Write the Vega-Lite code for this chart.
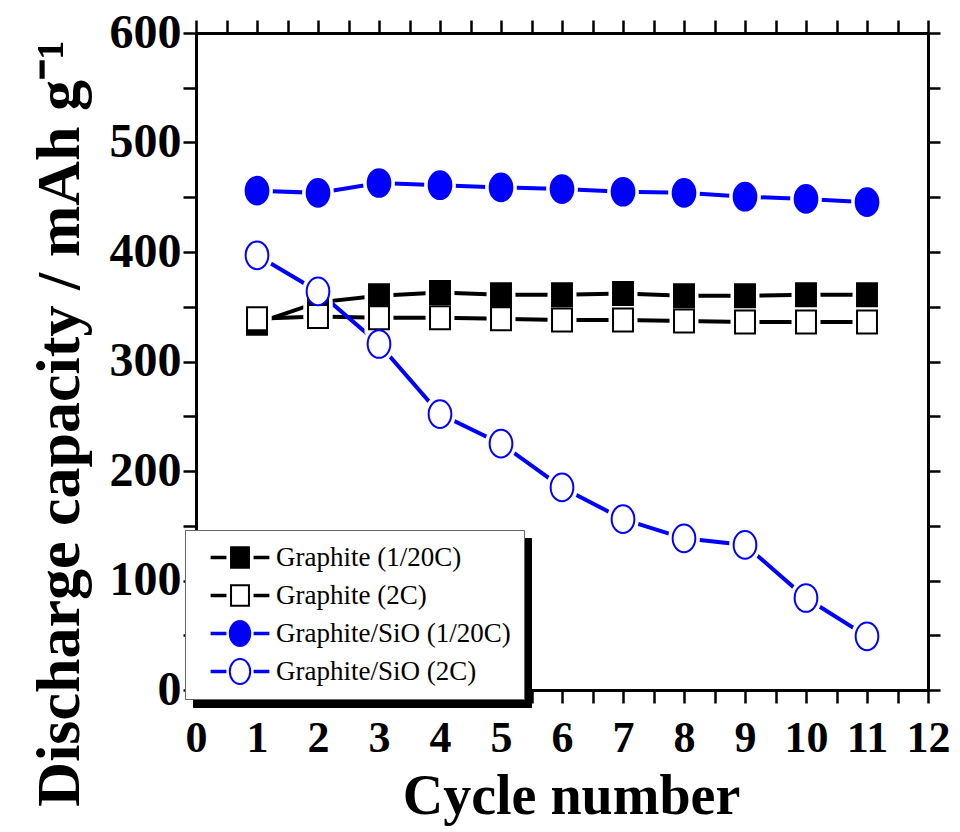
{
  "$schema": "https://vega.github.io/schema/vega-lite/v6.json",
  "width": 732,
  "height": 657,
  "autosize": {"type": "none"},
  "padding": {"left": 196, "top": 33, "right": 32, "bottom": 142},
  "background": "white",
  "config": {
    "view": {"stroke": null},
    "axis": {
      "grid": false,
      "domainColor": "black",
      "domainWidth": 3,
      "tickColor": "black",
      "tickWidth": 2.5,
      "labelFont": "Liberation Serif",
      "labelFontWeight": "bold",
      "labelColor": "black",
      "titleFont": "Liberation Serif",
      "titleFontWeight": "bold",
      "titleColor": "black",
      "labelFlush": false,
      "labelOverlap": false,
      "labelBound": false
    }
  },
  "data": {
    "values": [
      {"series": "Graphite (1/20C)", "cycle": 1, "capacity": 335},
      {"series": "Graphite (1/20C)", "cycle": 2, "capacity": 354},
      {"series": "Graphite (1/20C)", "cycle": 3, "capacity": 360},
      {"series": "Graphite (1/20C)", "cycle": 4, "capacity": 363},
      {"series": "Graphite (1/20C)", "cycle": 5, "capacity": 361},
      {"series": "Graphite (1/20C)", "cycle": 6, "capacity": 361},
      {"series": "Graphite (1/20C)", "cycle": 7, "capacity": 362},
      {"series": "Graphite (1/20C)", "cycle": 8, "capacity": 360},
      {"series": "Graphite (1/20C)", "cycle": 9, "capacity": 360},
      {"series": "Graphite (1/20C)", "cycle": 10, "capacity": 361},
      {"series": "Graphite (1/20C)", "cycle": 11, "capacity": 361},
      {"series": "Graphite (2C)", "cycle": 1, "capacity": 339},
      {"series": "Graphite (2C)", "cycle": 2, "capacity": 341},
      {"series": "Graphite (2C)", "cycle": 3, "capacity": 340},
      {"series": "Graphite (2C)", "cycle": 4, "capacity": 340},
      {"series": "Graphite (2C)", "cycle": 5, "capacity": 339},
      {"series": "Graphite (2C)", "cycle": 6, "capacity": 338},
      {"series": "Graphite (2C)", "cycle": 7, "capacity": 338},
      {"series": "Graphite (2C)", "cycle": 8, "capacity": 337},
      {"series": "Graphite (2C)", "cycle": 9, "capacity": 336},
      {"series": "Graphite (2C)", "cycle": 10, "capacity": 336},
      {"series": "Graphite (2C)", "cycle": 11, "capacity": 336},
      {"series": "Graphite/SiO (1/20C)", "cycle": 1, "capacity": 456},
      {"series": "Graphite/SiO (1/20C)", "cycle": 2, "capacity": 454},
      {"series": "Graphite/SiO (1/20C)", "cycle": 3, "capacity": 463},
      {"series": "Graphite/SiO (1/20C)", "cycle": 4, "capacity": 461},
      {"series": "Graphite/SiO (1/20C)", "cycle": 5, "capacity": 459},
      {"series": "Graphite/SiO (1/20C)", "cycle": 6, "capacity": 457.5},
      {"series": "Graphite/SiO (1/20C)", "cycle": 7, "capacity": 455},
      {"series": "Graphite/SiO (1/20C)", "cycle": 8, "capacity": 454},
      {"series": "Graphite/SiO (1/20C)", "cycle": 9, "capacity": 450.5},
      {"series": "Graphite/SiO (1/20C)", "cycle": 10, "capacity": 448.5},
      {"series": "Graphite/SiO (1/20C)", "cycle": 11, "capacity": 445.5},
      {"series": "Graphite/SiO (2C)", "cycle": 1, "capacity": 397},
      {"series": "Graphite/SiO (2C)", "cycle": 2, "capacity": 364},
      {"series": "Graphite/SiO (2C)", "cycle": 3, "capacity": 316},
      {"series": "Graphite/SiO (2C)", "cycle": 4, "capacity": 252},
      {"series": "Graphite/SiO (2C)", "cycle": 5, "capacity": 225},
      {"series": "Graphite/SiO (2C)", "cycle": 6, "capacity": 185},
      {"series": "Graphite/SiO (2C)", "cycle": 7, "capacity": 156},
      {"series": "Graphite/SiO (2C)", "cycle": 8, "capacity": 138.5},
      {"series": "Graphite/SiO (2C)", "cycle": 9, "capacity": 132.5},
      {"series": "Graphite/SiO (2C)", "cycle": 10, "capacity": 84},
      {"series": "Graphite/SiO (2C)", "cycle": 11, "capacity": 49}
    ]
  },
  "resolve": {"axis": {"x": "independent", "y": "independent"}},
  "layer": [
    {
      "mark": {"type": "line", "strokeWidth": 4},
      "encoding": {
        "x": {
          "field": "cycle", "type": "quantitative",
          "scale": {"domain": [0, 12], "nice": false, "zero": false},
          "axis": {
            "orient": "bottom",
            "values": [0, 0.5, 1, 1.5, 2, 2.5, 3, 3.5, 4, 4.5, 5, 5.5, 6, 6.5, 7, 7.5, 8, 8.5, 9, 9.5, 10, 10.5, 11, 11.5, 12],
            "labelExpr": "datum.value % 1 === 0 ? '' + datum.value : ''",
            "tickSize": 13,
            "labelFontSize": 44,
            "labelBaseline": "alphabetic",
            "labelPadding": 48,
            "title": "Cycle number",
            "titleFontSize": 56,
            "titleX": 375,
            "titleY": 123,
            "titleAlign": "center",
            "titleBaseline": "alphabetic",
            "encode": {"ticks": {"update": {"y2": {"signal": "datum.value % 1 === 0 ? 13 : 7"}}}}
          }
        },
        "y": {
          "field": "capacity", "type": "quantitative",
          "scale": {"domain": [0, 600], "nice": false},
          "axis": {
            "orient": "left",
            "values": [0, 50, 100, 150, 200, 250, 300, 350, 400, 450, 500, 550, 600],
            "labelExpr": "datum.value % 100 === 0 ? '' + datum.value : ''",
            "tickSize": 13,
            "labelFontSize": 48,
            "labelPadding": 2,
            "title": "Discharge capacity / mAh g⁻¹",
            "titleFontSize": 62,
            "titleAngle": 270,
            "titleX": -118,
            "titleY": 390,
            "titleAlign": "center",
            "titleBaseline": "alphabetic",
            "encode": {"ticks": {"update": {"x2": {"signal": "datum.value % 100 === 0 ? -13 : -7"}}}}
          }
        },
        "stroke": {
          "field": "series", "type": "nominal",
          "scale": {"range": ["black", "black", "#0000FF", "#0000FF"]},
          "legend": {
            "orient": "none", "legendX": -11, "legendY": 497, "zindex": 2,
            "title": null, "padding": 12.5, "clipHeight": 30, "rowPadding": 8,
            "fillColor": "white", "strokeColor": "#666666",
            "labelFont": "Liberation Serif", "labelFontSize": 27, "labelColor": "black", "labelLimit": 600,
            "symbolType": "M-2.6,0L-1.2,0M1.2,0L2.6,0",
            "symbolSize": 511, "symbolStrokeWidth": 3.5, "symbolFillColor": "transparent",
            "symbolOffset": 29, "labelOffset": 22.5
          }
        }
      }
    },
    {
      "mark": {"type": "point", "filled": true, "fill": "white", "stroke": "white", "strokeWidth": 9, "size": 767, "opacity": 1},
      "encoding": {
        "x": {
          "field": "cycle", "type": "quantitative",
          "axis": {
            "orient": "top",
            "values": [0, 0.5, 1, 1.5, 2, 2.5, 3, 3.5, 4, 4.5, 5, 5.5, 6, 6.5, 7, 7.5, 8, 8.5, 9, 9.5, 10, 10.5, 11, 11.5, 12],
            "labels": false, "title": null, "tickSize": 13,
            "encode": {"ticks": {"update": {"y2": {"signal": "datum.value % 1 === 0 ? 13 : 7"}}}}
          }
        },
        "y": {
          "field": "capacity", "type": "quantitative",
          "axis": {
            "orient": "right",
            "values": [0, 50, 100, 150, 200, 250, 300, 350, 400, 450, 500, 550, 600],
            "labels": false, "title": null, "tickSize": 12,
            "encode": {"ticks": {"update": {"x2": {"signal": "datum.value % 100 === 0 ? -12 : -6"}}}}
          }
        },
        "shape": {
          "field": "series", "type": "nominal",
          "scale": {"domain": ["Graphite (1/20C)", "Graphite (2C)", "Graphite/SiO (1/20C)", "Graphite/SiO (2C)"]},
          "legend": {
            "orient": "none", "legendX": -11, "legendY": 497, "zindex": 3,
            "title": null, "padding": 12.5, "clipHeight": 30, "rowPadding": 8,
            "labelFont": "Liberation Serif", "labelFontSize": 27, "labelExpr": "''", "labelLimit": 600,
            "symbolSize": 620, "symbolStrokeWidth": 2,
            "symbolOffset": 29, "labelOffset": 22.5
          }
        },
        "strokeDash": {
          "field": "series", "type": "nominal",
          "scale": {"domain": {"unionWith": ["Graphite (1/20C)"]}, "range": [[1, 0], [1, 0], [1, 0], [1, 0]]},
          "legend": {
            "orient": "none", "legendX": -3, "legendY": 505, "zindex": 1,
            "title": null, "padding": 12.5, "clipHeight": 30, "rowPadding": 8,
            "fillColor": "black", "strokeColor": "black",
            "labelFont": "Liberation Serif", "labelFontSize": 27, "labelColor": "black", "labelLimit": 600,
            "labelExpr": "' '",
            "symbolType": "M-2.6,0L-1.2,0M1.2,0L2.6,0",
            "symbolSize": 511, "symbolStrokeWidth": 3.5, "symbolOpacity": 0,
            "symbolOffset": 29, "labelOffset": 257
          }
        }
      }
    },
    {
      "mark": {"type": "point", "filled": false, "strokeWidth": 2, "size": 767, "opacity": 1},
      "encoding": {
        "x": {"field": "cycle", "type": "quantitative", "axis": null},
        "y": {"field": "capacity", "type": "quantitative", "axis": null},
        "color": {
          "field": "series", "type": "nominal",
          "scale": {
            "domain": ["Graphite (1/20C)", "Graphite (2C)", "Graphite/SiO (1/20C)", "Graphite/SiO (2C)"],
            "range": ["black", "black", "#0000FF", "#0000FF"]
          },
          "legend": {
            "orient": "none", "legendX": -11, "legendY": 497, "zindex": 3,
            "title": null, "padding": 12.5, "clipHeight": 30, "rowPadding": 8,
            "labelFont": "Liberation Serif", "labelFontSize": 27, "labelExpr": "''", "labelLimit": 600,
            "symbolSize": 620, "symbolStrokeWidth": 2,
            "symbolOffset": 29, "labelOffset": 22.5
          }
        },
        "fill": {
          "field": "series", "type": "nominal",
          "scale": {
            "domain": ["Graphite (1/20C)", "Graphite (2C)", "Graphite/SiO (1/20C)", "Graphite/SiO (2C)"],
            "range": ["black", "white", "#0000FF", "white"]
          },
          "legend": {
            "orient": "none", "legendX": -11, "legendY": 497, "zindex": 3,
            "title": null, "padding": 12.5, "clipHeight": 30, "rowPadding": 8,
            "labelFont": "Liberation Serif", "labelFontSize": 27, "labelExpr": "''", "labelLimit": 600,
            "symbolSize": 620, "symbolStrokeWidth": 2,
            "symbolOffset": 29, "labelOffset": 22.5
          }
        },
        "shape": {
          "field": "series", "type": "nominal",
          "scale": {
            "domain": ["Graphite (1/20C)", "Graphite (2C)", "Graphite/SiO (1/20C)", "Graphite/SiO (2C)"],
            "range": [
            "M-0.72,-0.83L0.72,-0.83L0.72,0.83L-0.72,0.83Z",
            "M-0.72,-0.83L0.72,-0.83L0.72,0.83L-0.72,0.83Z",
            "M-0.82,0A0.82,1,0,1,1,0.82,0A0.82,1,0,1,1,-0.82,0Z",
            "M-0.82,0A0.82,1,0,1,1,0.82,0A0.82,1,0,1,1,-0.82,0Z"
          ]},
          "legend": {
            "orient": "none", "legendX": -11, "legendY": 497, "zindex": 3,
            "title": null, "padding": 12.5, "clipHeight": 30, "rowPadding": 8,
            "labelFont": "Liberation Serif", "labelFontSize": 27, "labelExpr": "''", "labelLimit": 600,
            "symbolSize": 620, "symbolStrokeWidth": 2,
            "symbolOffset": 29, "labelOffset": 22.5
          }
        }
      }
    }
  ]
}
